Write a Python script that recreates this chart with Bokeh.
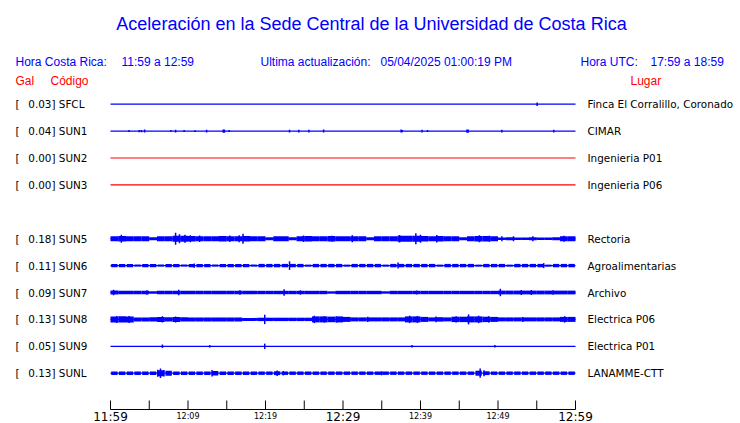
from bokeh.plotting import figure
from bokeh.models import Range1d
from bokeh.core.properties import value
from bokeh.embed import file_html
from bokeh.resources import INLINE

# ---------------- data ----------------
TITLE = "Aceleración en la Sede Central de la Universidad de Costa Rica"
HORA_CR = "11:59 a 12:59"
HORA_UTC = "17:59 a 18:59"
ULTIMA = "05/04/2025 01:00:19 PM"

# row order (None = empty slot where SUN4 would be)
CODES = ["SFCL", "SUN1", "SUN2", "SUN3", None, "SUN5", "SUN6", "SUN7", "SUN8", "SUN9", "SUNL"]
GAL = [0.03, 0.04, 0.00, 0.00, None, 0.18, 0.11, 0.09, 0.13, 0.05, 0.13]
PLACES = ["Finca El Corralillo, Coronado", "CIMAR", "Ingenieria P01", "Ingenieria P06", None,
          "Rectoria", "Agroalimentarias", "Archivo", "Electrica P06", "Electrica P01", "LANAMME-CTT"]

# time axis (minutes after 11:59)
TICK_MIN = [0, 5, 10, 15, 20, 25, 30, 35, 40, 45, 50, 55, 60]
TICK_LABELS = ["11:59", "", "12:09", "", "12:19", "", "12:29", "", "12:39", "", "12:49", "", "12:59"]
BIG_TICKS = ["11:59", "12:29", "12:59"]
SPAN = [0, 60]

# per-minute envelope (half amplitude) of the noisy traces
ENV_SUN5 = [2.5, 2.7, 2.5, 2.5, 2.5, 1.5, 2.5, 2.5, 3.0, 3.0,
            2.7, 2.5, 2.5, 2.5, 2.7, 2.5, 2.5, 2.7, 2.5, 2.5,
            1.5, 2.5, 2.5, 1.5, 2.5, 2.7, 2.5, 2.5, 2.7, 2.5,
            2.5, 2.5, 2.5, 1.5, 2.5, 2.5, 2.5, 3.0, 3.0, 3.0,
            2.7, 2.5, 2.7, 2.5, 2.5, 1.5, 2.5, 2.7, 2.7, 2.5,
            1.2, 1.5, 1.2, 1.2, 1.5, 1.2, 1.2, 1.5, 2.5, 2.5]
ENV_SUN6 = [1.7, 1.7, 1.7, 1.0, 1.7, 1.7, 1.0, 1.7, 1.7, 1.0,
            1.7, 1.7, 1.7, 1.0, 1.7, 1.7, 1.7, 1.7, 1.0, 1.7,
            1.7, 1.7, 1.7, 1.7, 1.7, 1.0, 1.7, 1.7, 1.7, 1.7,
            1.0, 1.7, 1.7, 1.7, 1.7, 1.0, 1.7, 1.7, 1.7, 1.7,
            1.7, 1.7, 1.0, 1.7, 1.7, 1.7, 1.7, 1.0, 1.7, 1.7,
            1.7, 1.0, 1.7, 1.7, 1.7, 1.7, 1.0, 1.7, 1.7, 1.7]
ENV_SUN7 = [1.9, 1.7, 1.7, 1.7, 1.7, 1.2, 1.7, 1.7, 1.7, 1.7,
            1.7, 1.7, 1.7, 1.7, 1.7, 1.7, 1.7, 1.7, 1.7, 1.7,
            1.7, 1.7, 1.7, 1.7, 1.7, 1.7, 1.7, 1.7, 1.2, 1.7,
            1.7, 1.7, 1.7, 1.7, 1.7, 1.2, 1.7, 1.7, 1.7, 1.7,
            1.7, 1.7, 1.7, 1.7, 1.7, 1.7, 1.7, 1.7, 1.7, 1.7,
            1.9, 1.9, 1.9, 1.9, 1.9, 1.9, 1.9, 1.9, 1.9, 1.9]
ENV_SUN8 = [3.0, 3.2, 3.0, 2.0, 2.0, 2.2, 2.5, 2.2, 2.5, 2.2,
            2.0, 2.0, 2.0, 2.0, 2.0, 2.0, 2.0, 1.5, 1.5, 1.7,
            1.7, 1.7, 1.7, 1.7, 1.7, 1.7, 3.0, 3.0, 2.8, 3.0,
            2.5, 2.0, 2.0, 2.0, 2.0, 2.0, 2.0, 2.0, 3.0, 3.0,
            2.5, 2.0, 2.2, 2.0, 2.7, 2.7, 3.0, 3.0, 2.7, 2.5,
            2.0, 2.0, 2.0, 2.0, 2.0, 2.0, 2.0, 2.0, 2.5, 2.5]
ENV_SUNL = [1.7, 1.7, 1.7, 1.7, 1.7, 1.7, 3.0, 2.5, 1.7, 1.7,
            1.7, 1.7, 1.7, 2.2, 1.7, 1.7, 1.7, 1.7, 1.7, 1.7,
            1.7, 1.9, 1.7, 1.7, 1.7, 1.7, 1.7, 1.7, 1.7, 1.7,
            1.7, 1.7, 1.7, 1.7, 1.7, 1.7, 1.7, 1.7, 1.7, 1.7,
            1.7, 1.7, 1.7, 1.7, 1.7, 1.7, 1.7, 2.5, 1.9, 1.7,
            1.7, 1.7, 1.7, 1.7, 1.7, 1.7, 1.7, 1.7, 1.7, 1.7]

# isolated peaks: (minute, half amplitude)
SPK_SFCL = [(55.05, 1.7)]
SPK_SUN1 = [(2.4, 1.0), (3.7, 1.2), (4.0, 1.2), (4.4, 1.5), (7.8, 1.0), (8.4, 1.3), (9.5, 1.0),
            (10.9, 0.8), (12.4, 1.3), (14.55, 1.6), (14.7, 1.6), (15.3, 1.0), (23.1, 1.3), (24.3, 1.3),
            (25.6, 1.3), (27.5, 1.5), (37.5, 1.5), (37.65, 1.2), (40.2, 1.3), (40.9, 1.0),
            (46.0, 1.6), (46.15, 1.6), (50.5, 1.3), (57.2, 1.3)]
SPK_SUN5 = [(1.4, 4.0), (8.4, 6.0), (8.9, 4.5), (9.6, 4.0), (10.3, 3.5), (11.5, 3.2), (15.4, 3.2),
            (16.6, 3.5), (17.1, 5.0), (24.9, 3.2), (28.6, 3.0), (31.2, 3.5), (37.3, 3.8), (39.4, 5.5),
            (40.0, 4.0), (42.1, 3.8), (47.6, 3.5), (48.9, 3.0), (50.5, 2.5), (52.0, 2.5), (54.5, 2.5),
            (58.5, 3.0)]
SPK_SUN6 = [(10.8, 2.2), (23.1, 4.3), (37.1, 3.0), (55.9, 2.5)]
SPK_SUN7 = [(0.4, 2.7), (4.7, 2.2), (8.8, 2.7), (16.7, 2.2), (22.4, 3.2), (24.5, 2.2), (39.5, 2.0),
            (50.3, 3.7), (53.0, 2.5), (54.3, 2.5), (57.1, 2.2)]
SPK_SUN8 = [(0.8, 3.5), (2.4, 3.5), (6.7, 3.2), (8.4, 3.0), (19.9, 4.7), (26.3, 3.7), (27.6, 3.2),
            (29.2, 3.0), (33.2, 2.7), (38.6, 3.7), (39.6, 3.5), (42.0, 2.8), (44.6, 3.2), (46.2, 5.0),
            (47.5, 3.7), (48.8, 3.2), (53.2, 2.5), (58.6, 3.2)]
SPK_SUN9 = [(6.7, 1.7), (12.8, 1.2), (19.9, 2.7), (38.9, 1.2), (49.6, 1.2)]
SPK_SUNL = [(6.1, 3.5), (6.45, 4.8), (6.9, 3.2), (13.1, 3.2), (21.5, 2.7), (22.3, 2.2), (35.0, 2.0),
            (47.7, 4.6), (48.2, 3.0)]

ENVELOPES = {"SUN5": ENV_SUN5, "SUN6": ENV_SUN6, "SUN7": ENV_SUN7, "SUN8": ENV_SUN8, "SUNL": ENV_SUNL}
SPIKES = {"SFCL": SPK_SFCL, "SUN1": SPK_SUN1, "SUN5": SPK_SUN5, "SUN6": SPK_SUN6, "SUN7": SPK_SUN7,
          "SUN8": SPK_SUN8, "SUN9": SPK_SUN9, "SUNL": SPK_SUNL}

# ---------------- layout / style ----------------
BLUE = "#0000ff"
RED = "#ff0000"
RED_CODES = {"SUN2", "SUN3"}
DASHED_BAND = {"SUN6": 0.82, "SUNL": 0.82}

W, H = 740, 423
PX0, PX_PER_MIN = 110.0, 465.0 / 60.0


def px(xp):
    return (xp - PX0) / PX_PER_MIN


ROW_Y0, ROW_DY = 103.7, 26.9
HEAD = "Liberation Sans"
BODY = "DejaVu Sans"

p = figure(width=W, height=H, output_backend="svg", toolbar_location=None,
           x_range=Range1d(px(0), px(W)), y_range=Range1d(H, 0),
           x_axis_location=None, y_axis_location=None, min_border=0,
           outline_line_color=None, background_fill_color="white", border_fill_color="white")
p.grid.visible = False


def txt(x, y, s, size, color, font, align="left"):
    # y = vertical centre of the text's capital letters
    p.text(x=[px(x)], y=[y], text=[s], text_font=value(font), text_font_size=value(size),
           text_color=color, text_align=align, text_baseline="alphabetic")


# title and header
txt(371, 23, TITLE, "18px", BLUE, HEAD, "center")
txt(15, 61, "Hora Costa Rica:", "12px", BLUE, HEAD)
txt(121, 61, HORA_CR, "12px", BLUE, HEAD)
txt(260, 61, "Ultima actualización:", "12px", BLUE, HEAD)
txt(380, 61, ULTIMA, "12px", BLUE, HEAD)
txt(580, 61, "Hora UTC:", "12px", BLUE, HEAD)
txt(650, 61, HORA_UTC, "12px", BLUE, HEAD)
txt(15, 80.7, "Gal", "12px", RED, HEAD)
txt(50, 80.7, "Código", "12px", RED, HEAD)
txt(630, 80.7, "Lugar", "12px", RED, HEAD)

# station rows
for i, code in enumerate(CODES):
    if code is None:
        continue
    y = ROW_Y0 + ROW_DY * i
    color = RED if code in RED_CODES else BLUE
    txt(15, y, "[", "10.4px", "black", BODY)
    txt(55, y, "%.2f]" % GAL[i], "10.4px", "black", BODY, "right")
    txt(58.3, y, code, "10.4px", "black", BODY)
    txt(587, y, PLACES[i], "10.4px", "black", BODY)

    # base trace
    p.segment(x0=[SPAN[0]], x1=[SPAN[1]], y0=[y], y1=[y], line_color=color, line_width=1.2)

    env = ENVELOPES.get(code)
    if env:
        w = DASHED_BAND.get(code, 1.0)
        left = [k + (1 - w) / 2 for k in range(len(env))]
        right = [k + (1 + w) / 2 for k in range(len(env))]
        p.quad(left=left, right=right, bottom=[y - a for a in env], top=[y + a for a in env],
               fill_color=color, line_color=None)
    spk = SPIKES.get(code)
    if spk:
        p.segment(x0=[t for t, a in spk], x1=[t for t, a in spk],
                  y0=[y - a for t, a in spk], y1=[y + a for t, a in spk],
                  line_color=color, line_width=1.5)

# time axis
AX_Y = 409
p.segment(x0=[SPAN[0]], x1=[SPAN[1]], y0=[AX_Y], y1=[AX_Y], line_color="black", line_width=1)
p.segment(x0=TICK_MIN, x1=TICK_MIN, y0=[AX_Y - 9] * len(TICK_MIN), y1=[AX_Y] * len(TICK_MIN),
          line_color="black", line_width=1)
for t, lab in zip(TICK_MIN, TICK_LABELS):
    if not lab:
        continue
    if lab in BIG_TICKS:
        p.text(x=[t], y=[416], text=[lab], text_font=value(BODY), text_font_size=value("12px"),
               text_color="black", text_align="center", text_baseline="alphabetic")
    else:
        p.text(x=[t], y=[415.8], text=[lab], text_font=value(BODY), text_font_size=value("8px"),
               text_color="black", text_align="center", text_baseline="alphabetic")

open("out.html", "w").write(file_html(p, INLINE))
